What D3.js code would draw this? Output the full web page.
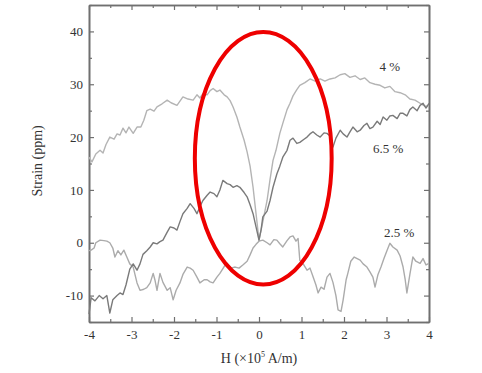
<!DOCTYPE html>
<html>
<head>
<meta charset="utf-8">
<script src="https://cdn.jsdelivr.net/npm/d3@7"></script>
<style>
  body { margin: 0; background: #fff; }
  text { font-family: "Liberation Serif", "Times New Roman", serif; fill: #333; }
</style>
</head>
<body>
<div id="chart"></div>
<script>
// data: [H (x10^5 A/m), strain (ppm)]
const strain4 = [[-4.00,16.2],[-3.93,15.3],[-3.84,16.8],[-3.74,17.5],[-3.67,17.0],[-3.60,18.6],[-3.51,20.0],[-3.41,19.6],[-3.34,20.6],[-3.27,20.4],[-3.20,21.7],[-3.13,20.8],[-3.06,21.9],[-2.96,20.7],[-2.87,21.9],[-2.78,21.9],[-2.71,23.2],[-2.64,25.0],[-2.56,25.3],[-2.47,24.9],[-2.40,25.7],[-2.28,26.3],[-2.16,27.0],[-2.07,26.5],[-1.93,26.0],[-1.86,26.8],[-1.79,27.6],[-1.67,27.2],[-1.55,27.0],[-1.46,28.0],[-1.39,27.4],[-1.32,28.2],[-1.22,28.0],[-1.15,28.8],[-1.08,29.2],[-0.99,28.6],[-0.92,28.9],[-0.82,28.0],[-0.75,27.6],[-0.68,26.9],[-0.61,25.7],[-0.52,23.8],[-0.45,21.9],[-0.35,19.4],[-0.28,17.2],[-0.21,14.5],[-0.14,10.5],[-0.07,5.5],[0,0.5],[0.09,4.0],[0.19,8.0],[0.26,12.0],[0.33,15.6],[0.40,17.5],[0.49,20.7],[0.56,22.6],[0.66,25.2],[0.73,26.4],[0.80,27.8],[0.89,29.0],[0.96,29.8],[1.08,30.3],[1.20,31.0],[1.32,30.6],[1.44,31.0],[1.55,30.6],[1.67,31.0],[1.79,31.2],[1.91,31.8],[2.02,32.0],[2.14,31.3],[2.26,31.6],[2.38,30.9],[2.49,31.2],[2.61,30.3],[2.73,30.0],[2.85,29.8],[2.96,29.3],[3.08,29.6],[3.20,28.6],[3.32,28.4],[3.44,28.0],[3.55,27.2],[3.67,27.0],[3.79,26.4],[3.91,25.8],[4.00,26.0]];

const strain65 = [[-4.00,-13.5],[-3.95,-10.4],[-3.86,-11.0],[-3.76,-10.0],[-3.67,-10.6],[-3.58,-10.0],[-3.51,-13.3],[-3.44,-10.8],[-3.34,-10.0],[-3.27,-9.5],[-3.20,-9.8],[-3.13,-8.0],[-3.04,-5.0],[-2.96,-4.0],[-2.87,-5.2],[-2.80,-4.0],[-2.73,-2.2],[-2.64,-1.5],[-2.56,-0.8],[-2.49,0.0],[-2.40,-0.2],[-2.33,0.2],[-2.26,0.5],[-2.16,2.0],[-2.09,3.0],[-2.00,2.8],[-1.93,2.4],[-1.86,4.0],[-1.79,5.5],[-1.69,6.5],[-1.62,7.4],[-1.53,6.5],[-1.46,5.5],[-1.39,6.8],[-1.32,8.0],[-1.22,9.0],[-1.15,9.6],[-1.06,9.3],[-0.99,8.7],[-0.92,10.0],[-0.85,11.8],[-0.75,11.2],[-0.68,11.0],[-0.61,10.5],[-0.52,10.8],[-0.45,10.5],[-0.35,9.5],[-0.28,8.7],[-0.21,7.2],[-0.14,5.5],[-0.07,3.0],[0,0.5],[0.05,2.5],[0.09,4.9],[0.19,6.0],[0.26,8.0],[0.33,10.5],[0.42,13.0],[0.49,14.5],[0.56,16.2],[0.66,17.5],[0.73,19.4],[0.80,19.8],[0.89,18.8],[0.96,19.0],[1.06,19.6],[1.13,20.0],[1.20,20.6],[1.27,21.0],[1.36,20.4],[1.44,20.0],[1.53,20.8],[1.60,20.7],[1.67,20.2],[1.74,18.1],[1.81,19.8],[1.91,21.3],[1.98,20.6],[2.07,20.0],[2.14,21.0],[2.21,21.9],[2.31,21.0],[2.38,21.3],[2.47,22.2],[2.54,22.6],[2.61,21.6],[2.68,21.9],[2.78,23.0],[2.85,22.4],[2.92,23.8],[3.01,23.2],[3.08,24.0],[3.15,24.1],[3.25,23.5],[3.32,24.5],[3.39,24.5],[3.48,24.0],[3.55,25.2],[3.62,25.7],[3.72,25.0],[3.79,26.0],[3.86,26.4],[3.93,25.5],[4.00,26.4]];

const strain25 = [[-4.00,-1.5],[-3.95,-1.4],[-3.88,-1.0],[-3.84,0.0],[-3.74,0.5],[-3.65,0.4],[-3.58,0.3],[-3.51,0.0],[-3.44,-1.0],[-3.39,-2.7],[-3.32,-1.5],[-3.25,-2.3],[-3.18,-1.4],[-3.11,-2.7],[-3.04,-4.0],[-2.96,-4.6],[-2.87,-7.6],[-2.80,-9.0],[-2.71,-8.8],[-2.64,-8.5],[-2.56,-7.6],[-2.49,-5.8],[-2.45,-7.0],[-2.40,-9.0],[-2.33,-5.8],[-2.26,-7.5],[-2.16,-9.0],[-2.09,-8.5],[-2.02,-10.8],[-1.95,-9.0],[-1.86,-7.6],[-1.79,-6.0],[-1.69,-4.6],[-1.62,-4.8],[-1.55,-5.2],[-1.46,-6.5],[-1.39,-7.6],[-1.29,-7.0],[-1.22,-7.0],[-1.15,-7.4],[-1.08,-7.6],[-0.99,-6.5],[-0.92,-5.8],[-0.82,-4.5],[-0.75,-3.9],[-0.66,-4.8],[-0.56,-4.6],[-0.47,-4.8],[-0.38,-4.2],[-0.28,-3.5],[-0.21,-2.3],[-0.14,-1.0],[-0.07,-0.3],[0,0.3],[0.09,0.5],[0.19,0.0],[0.26,-0.4],[0.35,0.6],[0.42,0.5],[0.49,-0.2],[0.56,-0.8],[0.66,0.4],[0.73,1.1],[0.80,1.3],[0.87,0.3],[0.92,0.8],[0.96,-3.3],[1.04,-4.0],[1.13,-5.2],[1.20,-4.8],[1.27,-6.4],[1.34,-8.0],[1.39,-9.5],[1.46,-8.4],[1.53,-8.8],[1.60,-6.5],[1.67,-5.8],[1.74,-7.5],[1.81,-10.0],[1.86,-12.7],[1.93,-13.0],[1.98,-10.8],[2.05,-7.0],[2.09,-5.8],[2.16,-3.5],[2.24,-2.7],[2.31,-3.0],[2.38,-3.3],[2.45,-4.0],[2.54,-4.6],[2.61,-5.5],[2.68,-6.5],[2.73,-8.4],[2.80,-6.0],[2.87,-4.6],[2.94,-3.0],[3.01,-1.5],[3.08,-0.1],[3.15,-0.8],[3.25,-1.4],[3.32,-2.5],[3.39,-4.6],[3.44,-7.0],[3.48,-9.5],[3.55,-6.0],[3.62,-2.7],[3.69,-3.5],[3.79,-3.9],[3.86,-3.0],[3.93,-4.2],[4.00,-3.9]];

const xTicks = [-4, -3, -2, -1, 0, 1, 2, 3, 4];
const yTicks = [-10, 0, 10, 20, 30, 40];
const seriesLabels = [
  { text: "4 %", h: 3.08, s: 32.6 },
  { text: "6.5 %", h: 3.04, s: 17.0 },
  { text: "2.5 %", h: 3.30, s: 1.1 }
];
// red ellipse marking the low-field region (data units)
const mark = { h: 0.1, s: 16, rh: 1.61, rs: 23.9 };

const W = 482, H = 373;
const margin = { top: 5, right: 53, bottom: 51, left: 89 };
const width = W - margin.left - margin.right;
const height = H - margin.top - margin.bottom;

const svg = d3.select("#chart").append("svg")
    .attr("width", W).attr("height", H)
  .append("g")
    .attr("transform", `translate(${margin.left},${margin.top})`);

const x = d3.scaleLinear().domain([-4, 4]).range([0, width]);
const y = d3.scaleLinear().domain([-15, 45]).range([height, 0]);

const xMinor = d3.range(-3.5, 4, 1);
const yMinor = d3.range(-15, 46, 10);

const frame = "#707070";
const plain = d => String(d); // hyphen minus, as in the original

function styleAxis(g) {
  g.select(".domain").attr("stroke", frame).attr("stroke-width", 1.6);
  g.selectAll(".tick line").attr("stroke", frame).attr("stroke-width", 1.2);
  g.selectAll(".tick text").attr("font-size", 13).attr("fill", "#333")
    .attr("font-family", "Liberation Serif, Times New Roman, serif");
}

// bottom
svg.append("g").attr("transform", `translate(0,${height})`)
  .call(d3.axisBottom(x).tickValues(xTicks).tickFormat(plain).tickSizeInner(-5).tickSizeOuter(0).tickPadding(8))
  .call(styleAxis);
svg.append("g").attr("transform", `translate(0,${height})`)
  .call(d3.axisBottom(x).tickValues(xMinor).tickSizeInner(-3).tickSizeOuter(0).tickFormat(""))
  .call(styleAxis);
// top
svg.append("g")
  .call(d3.axisTop(x).tickValues(xTicks).tickSizeInner(-5).tickSizeOuter(0).tickFormat(""))
  .call(styleAxis);
svg.append("g")
  .call(d3.axisTop(x).tickValues(xMinor).tickSizeInner(-3).tickSizeOuter(0).tickFormat(""))
  .call(styleAxis);
// left
svg.append("g")
  .call(d3.axisLeft(y).tickValues(yTicks).tickFormat(plain).tickSizeInner(-5).tickSizeOuter(0).tickPadding(6))
  .call(styleAxis);
svg.append("g")
  .call(d3.axisLeft(y).tickValues(yMinor).tickSizeInner(-3).tickSizeOuter(0).tickFormat(""))
  .call(styleAxis);
// right
svg.append("g").attr("transform", `translate(${width},0)`)
  .call(d3.axisRight(y).tickValues(yTicks).tickSizeInner(-5).tickSizeOuter(0).tickFormat(""))
  .call(styleAxis);
svg.append("g").attr("transform", `translate(${width},0)`)
  .call(d3.axisRight(y).tickValues(yMinor).tickSizeInner(-3).tickSizeOuter(0).tickFormat(""))
  .call(styleAxis);

// curves
const line = d3.line().x(d => x(d[0])).y(d => y(d[1]));
const curves = [
  { data: strain4, color: "#b4b4b4" },
  { data: strain25, color: "#ababab" },
  { data: strain65, color: "#7a7a7a" }
];
svg.selectAll("path.curve")
  .data(curves)
  .enter()
  .append("path")
  .attr("class", "curve")
  .attr("d", d => line(d.data))
  .attr("fill", "none")
  .attr("stroke", d => d.color)
  .attr("stroke-width", 1.4)
  .attr("stroke-linejoin", "round");

// series labels
svg.selectAll("text.series")
  .data(seriesLabels)
  .enter()
  .append("text")
  .attr("class", "series")
  .attr("x", d => x(d.h))
  .attr("y", d => y(d.s))
  .attr("text-anchor", "middle")
  .attr("font-size", 13)
  .text(d => d.text);

// red ellipse
svg.append("ellipse")
  .attr("cx", x(mark.h))
  .attr("cy", y(mark.s))
  .attr("rx", x(mark.h + mark.rh) - x(mark.h))
  .attr("ry", y(mark.s - mark.rs) - y(mark.s))
  .attr("fill", "none")
  .attr("stroke", "#ee0000")
  .attr("stroke-width", 4);

// axis labels
svg.append("text")
  .attr("x", width / 2)
  .attr("y", height + 41)
  .attr("text-anchor", "middle")
  .attr("font-size", 14)
  .call(t => {
    t.append("tspan").text("H (\u00d710");
    t.append("tspan").attr("font-size", 8).attr("dy", -6).text("5");
    t.append("tspan").attr("dy", 6).text(" A/m)");
  });

svg.append("text")
  .attr("transform", "rotate(-90)")
  .attr("x", -(y(15.5)))
  .attr("y", -margin.left + 42)
  .attr("text-anchor", "middle")
  .attr("font-size", 14)
  .text("Strain (ppm)");
</script>
</body>
</html>
